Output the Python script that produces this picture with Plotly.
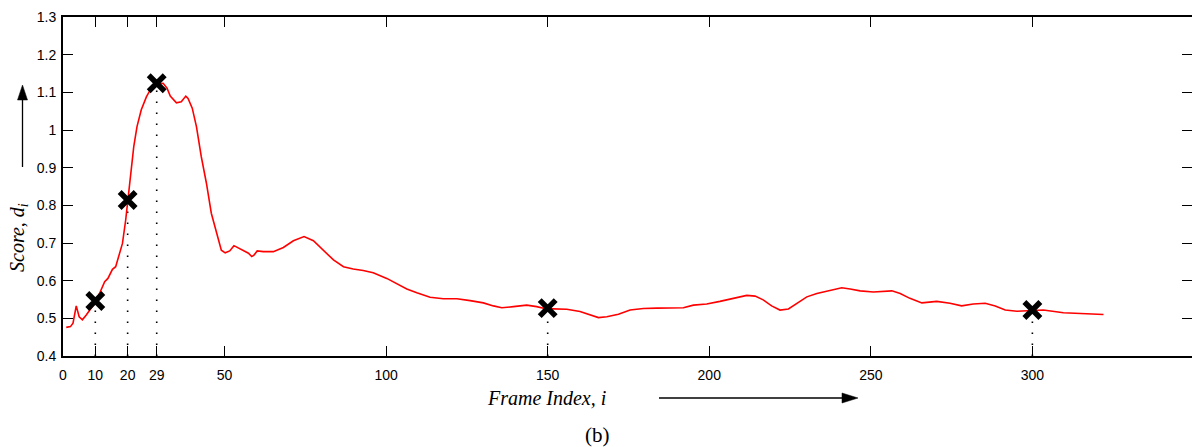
import plotly.graph_objects as go

# ---- data ----
frames = [1.0, 2.3, 3.1, 4.1, 5.0, 6.0, 7.2, 9.8, 11.3, 12.9, 13.9, 15.3, 16.3, 17.3, 18.4,
          19.4, 20.1, 20.9, 21.9, 22.9, 24.2, 25.8, 27.3, 28.9, 31.0, 32.2, 33.2, 35.1, 36.6,
          38.0, 38.7, 40.0, 41.3, 42.8, 44.4, 45.9, 47.5, 49.0, 50.2, 51.6, 52.9, 55.3, 57.4,
          58.4, 59.1, 60.1, 62.0, 65.1, 68.2, 71.3, 74.6, 77.5, 80.6, 83.7, 86.8, 89.8, 92.9,
          96.0, 100.2, 103.3, 106.4, 109.5, 113.6, 117.7, 121.9, 126.0, 130.1, 133.2, 135.8,
          139.4, 143.5, 146.6, 149.7, 151.7, 155.9, 160.0, 163.1, 165.7, 168.3, 171.9, 175.5,
          179.6, 183.8, 187.9, 192.0, 195.1, 199.2, 203.3, 207.5, 211.6, 214.2, 216.7, 219.3,
          221.9, 224.5, 227.1, 230.2, 233.3, 237.4, 241.0, 243.6, 246.7, 250.8, 253.9, 256.5,
          259.1, 262.1, 265.8, 270.4, 274.5, 278.1, 281.7, 285.4, 288.5, 291.6, 295.2, 299.3,
          303.4, 309.6, 314.8, 318.9, 322.0]
scores = [0.476, 0.478, 0.487, 0.533, 0.504, 0.496, 0.509, 0.540, 0.566, 0.597, 0.606, 0.630,
          0.637, 0.664, 0.699, 0.761, 0.814, 0.885, 0.956, 1.009, 1.053, 1.088, 1.111, 1.122,
          1.124, 1.111, 1.090, 1.072, 1.075, 1.090, 1.084, 1.058, 1.009, 0.929, 0.858, 0.779,
          0.726, 0.681, 0.674, 0.679, 0.693, 0.683, 0.673, 0.664, 0.668, 0.679, 0.677, 0.677,
          0.688, 0.706, 0.717, 0.706, 0.681, 0.655, 0.637, 0.631, 0.627, 0.621, 0.606, 0.593,
          0.578, 0.568, 0.556, 0.552, 0.552, 0.547, 0.541, 0.533, 0.528, 0.531, 0.535, 0.531,
          0.525, 0.525, 0.524, 0.518, 0.509, 0.502, 0.504, 0.511, 0.522, 0.526, 0.527, 0.528,
          0.528, 0.535, 0.538, 0.545, 0.553, 0.561, 0.559, 0.549, 0.533, 0.522, 0.525, 0.540,
          0.557, 0.566, 0.575, 0.581, 0.578, 0.573, 0.570, 0.571, 0.573, 0.566, 0.553, 0.541,
          0.545, 0.540, 0.533, 0.538, 0.540, 0.533, 0.522, 0.519, 0.520, 0.522, 0.515, 0.513,
          0.511, 0.510]

key_frames = [10, 20, 29, 150, 300]
key_scores = [0.546, 0.814, 1.124, 0.527, 0.522]

x_ticks = [0, 10, 20, 29, 50, 100, 150, 200, 250, 300]
y_ticks = [0.4, 0.5, 0.6, 0.7, 0.8, 0.9, 1.0, 1.1, 1.2, 1.3]
y_tick_labels = ["0.4", "0.5", "0.6", "0.7", "0.8", "0.9", "1", "1.1", "1.2", "1.3"]

Y_MIN, Y_MAX = 0.4, 1.3
X_MAX = 349.4

fig = go.Figure()

# dotted drop lines from the key frames
for kf, ks in zip(key_frames, key_scores):
    fig.add_trace(go.Scatter(x=[kf, kf], y=[Y_MIN, ks], mode="lines",
                             line=dict(color="black", width=1.6, dash="1.6px,9.4px"),
                             hoverinfo="skip"))

fig.add_trace(go.Scatter(x=frames, y=scores, mode="lines",
                         line=dict(color="#ff0000", width=1.6), hoverinfo="skip"))

fig.add_trace(go.Scatter(x=key_frames, y=key_scores, mode="markers",
                         marker=dict(symbol="x-thin", size=16, color="black",
                                     line=dict(color="black", width=5.5)),
                         hoverinfo="skip"))

# invisible trace to carry the right-hand mirrored y ticks
fig.add_trace(go.Scatter(x=[0], y=[Y_MIN], yaxis="y2", mode="markers",
                         marker=dict(opacity=0), hoverinfo="skip"))

tick_font = dict(family="Liberation Sans, Arial, sans-serif", size=14, color="black")

fig.update_layout(
    width=1192, height=447,
    margin=dict(l=63, r=0, t=17, b=91),
    plot_bgcolor="white", paper_bgcolor="white",
    showlegend=False,
    xaxis=dict(range=[0, X_MAX], tickvals=x_ticks, ticks="inside", ticklen=10,
               tickwidth=1.2, tickcolor="black", showline=True, linecolor="black",
               linewidth=2, mirror="ticks", showgrid=False, zeroline=False,
               tickfont=tick_font, automargin=False, ticklabelstandoff=5),
    yaxis=dict(range=[Y_MIN, Y_MAX], tickvals=y_ticks, ticktext=y_tick_labels,
               ticks="inside", ticklen=10, tickwidth=1.2, tickcolor="black",
               showline=True, linecolor="black", linewidth=2, mirror=False,
               showgrid=False, zeroline=False, tickfont=tick_font, automargin=False,
               ticklabelstandoff=2),
    yaxis2=dict(range=[Y_MIN, Y_MAX], tickvals=y_ticks, overlaying="y", side="right",
                ticks="inside", ticklen=10, tickwidth=1.2, tickcolor="black",
                showline=False, showgrid=False, zeroline=False, showticklabels=False,
                automargin=False),
)

PW, PH, L, T = 1192 - 63, 447 - 17 - 91, 63, 17


def px_to_paper(px, py):
    return (px - L) / PW, (T + PH - py) / PH


serif = "Liberation Serif, Times New Roman, serif"
annots = []
x, y = px_to_paper(18, 238)
annots.append(dict(x=x, y=y, xref="paper", yref="paper", text="<i>Score, d<sub>i</sub></i>",
                   textangle=-90, showarrow=False, xanchor="center", yanchor="middle",
                   font=dict(family=serif, size=20, color="black")))
x, y = px_to_paper(546, 398)
annots.append(dict(x=x, y=y, xref="paper", yref="paper", text="<i>Frame Index, i</i>",
                   showarrow=False, xanchor="center", yanchor="middle",
                   font=dict(family=serif, size=20, color="black")))
x, y = px_to_paper(597, 435)
annots.append(dict(x=x, y=y, xref="paper", yref="paper", text="(b)",
                   showarrow=False, xanchor="center", yanchor="middle",
                   font=dict(family=serif, size=21, color="black")))
fig.update_layout(annotations=annots)

# arrows drawn as shapes (shaft + filled head) in paper coordinates
shapes = []


def add_line(p0, p1):
    x0, y0 = px_to_paper(*p0)
    x1, y1 = px_to_paper(*p1)
    shapes.append(dict(type="line", xref="paper", yref="paper", x0=x0, y0=y0, x1=x1, y1=y1,
                       line=dict(color="black", width=1.3)))


def add_tri(pts):
    pp = [px_to_paper(*p) for p in pts]
    path = "M {} {} L {} {} L {} {} Z".format(pp[0][0], pp[0][1], pp[1][0], pp[1][1],
                                             pp[2][0], pp[2][1])
    shapes.append(dict(type="path", xref="paper", yref="paper", path=path,
                       fillcolor="black", line=dict(color="black", width=0.5)))


add_line((22.5, 167), (22.5, 99))
add_tri([(22.5, 85), (17.5, 100), (27.5, 100)])
add_line((659, 398), (843, 398))
add_tri([(858, 398), (842, 393), (842, 403)])
fig.update_layout(shapes=shapes)

fig.write_html("out.html", post_script="document.body.style.margin='0';",
               config={"displayModeBar": False})
